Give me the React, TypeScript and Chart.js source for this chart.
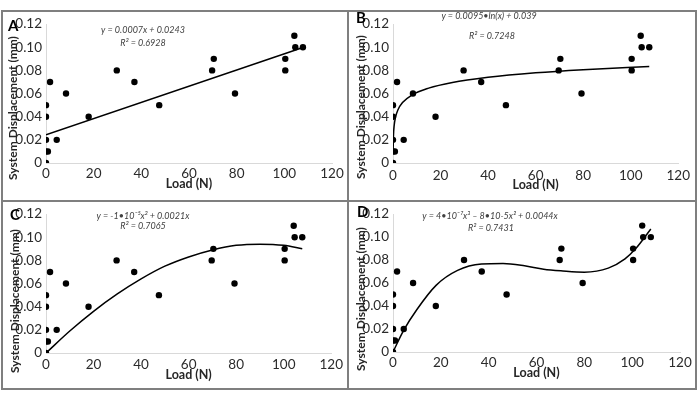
import React, { useEffect, useRef } from 'react';
import { Chart, registerables } from 'chart.js';

Chart.register(...registerables);

// ---- data ----
const loadN = [0, 0, 0.8, 0, 0, 0, 1.7, 4.5, 8.4, 17.9, 29.7, 37.1, 47.5, 69.7, 70.4, 79.3, 100.4, 100.4, 104.2, 104.6, 107.8];
const displacementMm = [0, 0.01, 0.01, 0.02, 0.04, 0.05, 0.07, 0.02, 0.06, 0.04, 0.08, 0.07, 0.05, 0.08, 0.09, 0.06, 0.09, 0.08, 0.11, 0.1, 0.1];

const linearFitX = [0, 107.8];
const linearFitY = [0.0243, 0.0998];

const logFitX = [0.05, 0.2, 0.5, 1, 2, 4, 8, 15, 25, 40, 60, 80, 107.8];
const logFitY = [0.0105, 0.0237, 0.0324, 0.039, 0.0456, 0.0522, 0.0588, 0.0647, 0.0696, 0.074, 0.0779, 0.0806, 0.0834];

const quadFitX = [0, 10, 20, 30, 40, 50, 60, 70, 80, 90, 100, 107.8];
const quadFitY = [0, 0.019, 0.036, 0.051, 0.064, 0.075, 0.083, 0.089, 0.093, 0.094, 0.093, 0.09];

const cubicFitX = [0, 4.5, 10, 18, 27, 37, 46, 55, 63, 71, 80, 90, 97, 101.5, 107.8];
const cubicFitY = [0, 0.019, 0.037, 0.058, 0.071, 0.0765, 0.077, 0.075, 0.072, 0.0705, 0.0695, 0.073, 0.081, 0.09, 0.107];

const panelLetters = ['A', 'B', 'C', 'D'];
const equations = [
  'y = 0.0007x + 0.0243',
  'y = 0.0095\u2022ln(x) + 0.039',
  'y = -1\u202210\u207B\u2075x\u00B2 + 0.0021x',
  'y = 4\u202210\u207B\u2077x\u00B3 \u2013 8\u202210-5x\u00B2 + 0.0044x',
];
const rSquared = ['R\u00B2 = 0.6928', 'R\u00B2 = 0.7248', 'R\u00B2 = 0.7065', 'R\u00B2 = 0.7431'];

const xTitle = 'Load (N)';
const yTitle = 'System Displacement (mm)';
const xMin = 0, xMax = 120, xStep = 20;
const yMin = 0, yMax = 0.12, yStep = 0.02;

const FONT = 'Lato, "Open Sans", sans-serif';
const NARROW = '"Liberation Sans Narrow", "Arial Narrow", Lato, sans-serif';
const TICK_COLOR = '#2b2b2b';

const fits = [
  [linearFitX, linearFitY],
  [logFitX, logFitY],
  [quadFitX, quadFitY],
  [cubicFitX, cubicFitY],
];

type Layout = {
  left: number; top: number; w: number; h: number;
  padTop: number; padRight: number; yw: number; xh: number;
  yTitleX: number; yTitleY: number; xTitlePad: number; xTickPad: number;
  letterX: number; letterY: number;
  eqX: number; eqY: number; r2X: number; r2Y: number;
};

const layouts: Layout[] = [
  { left: 3, top: 12, w: 344, h: 188, padTop: 8, padRight: 15, yw: 43, xh: 37, yTitleX: 10.5, yTitleY: 96, xTitlePad: 8.5, xTickPad: 3,
    letterX: 5, letterY: 19, eqX: 140, eqY: 18, r2X: 140, r2Y: 31 },
  { left: 349, top: 12, w: 346, h: 188, padTop: 9, padRight: 15, yw: 44, xh: 37, yTitleX: 12.5, yTitleY: 95, xTitlePad: 7.5, xTickPad: 5,
    letterX: 7, letterY: 11, eqX: 140, eqY: 4, r2X: 143, r2Y: 24 },
  { left: 3, top: 202, w: 344, h: 186, padTop: 8, padRight: 15, yw: 43, xh: 35, yTitleX: 12, yTitleY: 99, xTitlePad: 5.5, xTickPad: 4,
    letterX: 7, letterY: 18, eqX: 140, eqY: 14, r2X: 140, r2Y: 24 },
  { left: 349, top: 202, w: 346, h: 186, padTop: 7, padRight: 15, yw: 44, xh: 36, yTitleX: 12.5, yTitleY: 97, xTitlePad: 7.5, xTickPad: 3,
    letterX: 8, letterY: 15, eqX: 141, eqY: 14, r2X: 142, r2Y: 26 },
];

function Panel({ index }: { index: number }) {
  const ref = useRef<HTMLCanvasElement | null>(null);
  const L = layouts[index];

  useEffect(() => {
    if (!ref.current) return;
    const points = loadN.map((x, i) => ({ x, y: displacementMm[i] }));
    const [fx, fy] = fits[index];
    const fit = fx.map((x, i) => ({ x, y: fy[i] }));

    const textPlugin = {
      id: 'panelText' + index,
      afterDraw(chart: any) {
        const ctx = chart.ctx as CanvasRenderingContext2D;
        ctx.save();
        // y-axis title
        ctx.save();
        ctx.fillStyle = '#262626';
        ctx.font = `bold 12px ${FONT}`;
        ctx.textAlign = 'center';
        ctx.textBaseline = 'middle';
        ctx.translate(L.yTitleX, L.yTitleY);
        ctx.rotate(-Math.PI / 2);
        ctx.fillText(yTitle, 0, 0);
        ctx.restore();
        // panel letter
        ctx.fillStyle = '#000';
        ctx.font = `bold 15px ${FONT}`;
        ctx.textAlign = 'left';
        ctx.textBaseline = 'alphabetic';
        ctx.fillText(panelLetters[index], L.letterX, L.letterY);
        // equation
        ctx.fillStyle = '#404040';
        ctx.font = `italic 9px ${FONT}`;
        ctx.textAlign = 'center';
        ctx.textBaseline = 'middle';
        ctx.fillText(equations[index], L.eqX, L.eqY);
        ctx.fillText(rSquared[index], L.r2X, L.r2Y);
        ctx.restore();
      },
    };

    const chart = new Chart(ref.current, {
      type: 'scatter',
      data: {
        datasets: [
          {
            data: points,
            pointRadius: 3.2,
            pointBackgroundColor: '#000',
            pointBorderColor: '#000',
            pointBorderWidth: 0,
            showLine: false,
          } as any,
          {
            data: fit,
            showLine: true,
            pointRadius: 0,
            borderColor: '#000',
            borderWidth: 1.5,
            cubicInterpolationMode: 'monotone',
            fill: false,
          } as any,
        ],
      },
      options: {
        responsive: false,
        animation: false,
        events: [],
        layout: { padding: { top: L.padTop, right: L.padRight, bottom: 0, left: 0 } },
        plugins: { legend: { display: false }, tooltip: { enabled: false } },
        scales: {
          x: {
            type: 'linear',
            min: xMin,
            max: xMax,
            ticks: { stepSize: xStep, padding: L.xTickPad, color: TICK_COLOR, font: { family: NARROW, size: 13.5 } },
            grid: { display: false, drawTicks: false },
            border: { display: true, color: '#d9d9d9', width: 1 },
            title: {
              display: true,
              text: xTitle,
              color: '#262626',
              font: { family: NARROW, size: 12.5, weight: 'bold' },
              padding: { top: 0, bottom: L.xTitlePad },
            },
            afterFit(scale: any) {
              scale.height = L.xh;
            },
          },
          y: {
            type: 'linear',
            min: yMin,
            max: yMax,
            ticks: {
              stepSize: yStep,
              padding: 4,
              color: TICK_COLOR,
              font: { family: NARROW, size: 13.5 },
              callback: (v: any) => (Math.abs(v) < 1e-9 ? '0' : Number(v).toFixed(2)),
            },
            grid: { display: false, drawTicks: false },
            border: { display: true, color: '#d9d9d9', width: 1 },
            title: { display: false },
            afterFit(scale: any) {
              scale.width = L.yw;
            },
          },
        },
      } as any,
      plugins: [textPlugin],
    });
    return () => chart.destroy();
  }, [index]);

  return (
    <canvas
      ref={ref}
      width={L.w}
      height={L.h}
      style={{ position: 'absolute', left: L.left, top: L.top, width: L.w, height: L.h }}
    />
  );
}

export default function App() {
  const borderColor = '#7f7f7f';
  return (
    <div style={{ position: 'absolute', left: 0, top: 0, width: 700, height: 403, background: '#fff', overflow: 'hidden' }}>
      <div style={{ position: 'absolute', left: 1, top: 10, width: 696, height: 380, border: `2px solid ${borderColor}`, boxSizing: 'border-box' }} />
      <div style={{ position: 'absolute', left: 347, top: 10, width: 2, height: 380, background: borderColor }} />
      <div style={{ position: 'absolute', left: 1, top: 200, width: 696, height: 2, background: borderColor }} />
      {[0, 1, 2, 3].map((i) => (
        <Panel key={i} index={i} />
      ))}
    </div>
  );
}
